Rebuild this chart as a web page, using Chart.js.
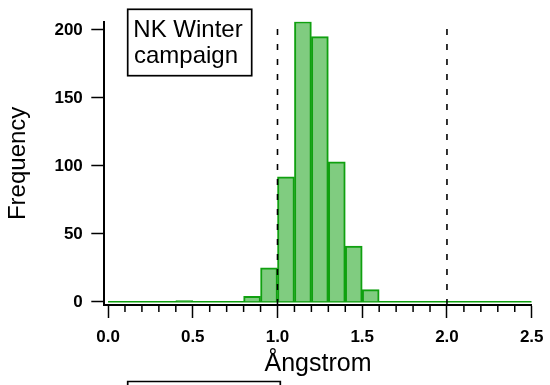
<!DOCTYPE html>
<html>
<head>
<meta charset="utf-8">
<script src="https://cdn.jsdelivr.net/npm/chart.js@4.4.1/dist/chart.umd.min.js"></script>
<style>
  html, body { margin:0; padding:0; background:#fff; }
  #wrap { position:relative; width:550px; height:385px; }
  canvas { display:block; }
</style>
</head>
<body>
<div id="wrap"><canvas id="c" width="550" height="385"></canvas></div>
<script>
// ---- data ----
const binStarts = [0.0,0.1,0.2,0.3,0.4,0.5,0.6,0.7,0.8,0.9,1.0,1.1,1.2,1.3,1.4,1.5,1.6,1.7,1.8,1.9,2.0,2.1,2.2,2.3,2.4];
const counts    = [0,  0,  0,  0,  1,  0,  0,  0,  4,  25, 92, 206,195,103,41, 9,  0,  0,  0,  0,  0,  0,  0,  0,  0];
const binWidth = 0.1;
const refLines = [1.0, 2.0];
const xMajorTicks = [0.0, 0.5, 1.0, 1.5, 2.0, 2.5];
const xMinorTicks = [0.1,0.2,0.3,0.4,0.6,0.7,0.8,0.9,1.1,1.2,1.3,1.4,1.6,1.7,1.8,1.9,2.1,2.2,2.3,2.4];
const yTicks = [0, 50, 100, 150, 200];
const labelLines = ['NK Winter', 'campaign'];
const xTitle = 'Ångstrom';
const yTitle = 'Frequency';

const X_MIN = -0.022, X_MAX = 2.5, Y_MIN = -2.3, Y_MAX = 206;
const FONT = "'Liberation Sans', Arial, sans-serif";
Chart.defaults.font.family = FONT;

const barData = binStarts.map((b, i) => ({ x: b + binWidth / 2, y: counts[i] }));
const zeroLine = [{ x: binStarts[0], y: 0 }, { x: binStarts[binStarts.length - 1] + binWidth, y: 0 }];

const decorPlugin = {
  id: 'decor',
  afterDraw(chart) {
    const ctx = chart.ctx;
    const xs = chart.scales.x;
    const area = chart.chartArea;
    ctx.save();
    // minor ticks
    ctx.strokeStyle = '#000';
    ctx.lineWidth = 1.5;
    xMinorTicks.forEach(v => {
      const px = xs.getPixelForValue(v);
      ctx.beginPath();
      ctx.moveTo(px, area.bottom);
      ctx.lineTo(px, area.bottom + 7);
      ctx.stroke();
    });
    // label box
    ctx.lineWidth = 1.7;
    ctx.strokeRect(127.7, 9.3, 124, 66.4);
    ctx.fillStyle = '#000';
    ctx.font = "24px " + FONT;
    ctx.textBaseline = 'alphabetic';
    ctx.textAlign = 'left';
    ctx.fillText(labelLines[0], 133.3, 36.7);
    ctx.fillText(labelLines[1], 134, 63);
    // partial box at bottom (next panel)
    ctx.beginPath();
    ctx.moveTo(127.7, 395);
    ctx.lineTo(127.7, 381.5);
    ctx.lineTo(280.3, 381.5);
    ctx.lineTo(280.3, 395);
    ctx.stroke();
    ctx.restore();
  }
};

new Chart(document.getElementById('c'), {
  type: 'bar',
  data: {
    datasets: [
      {
        type: 'bar',
        data: barData,
        backgroundColor: 'rgb(128,204,128)',
        borderColor: 'rgb(16,160,16)',
        borderWidth: 2,
        barPercentage: 1,
        categoryPercentage: 1,
        order: 1
      },
      {
        type: 'line',
        data: zeroLine,
        borderColor: 'rgb(16,160,16)',
        borderWidth: 1.5,
        pointRadius: 0,
        order: 2
      },
      ...refLines.map(v => ({
        type: 'line',
        data: [{ x: v, y: Y_MIN }, { x: v, y: Y_MAX }],
        borderColor: '#000',
        borderWidth: 1.6,
        borderDash: [6, 9],
        pointRadius: 0,
        order: 0
      }))
    ]
  },
  options: {
    responsive: false,
    animation: false,
    events: [],
    layout: { padding: { top: 21.7, right: 18.3, left: 0, bottom: 0 } },
    plugins: { legend: { display: false }, tooltip: { enabled: false } },
    scales: {
      x: {
        type: 'linear',
        offset: false,
        min: X_MIN, max: X_MAX,
        afterBuildTicks: s => { s.ticks = xMajorTicks.map(v => ({ value: v })); },
        afterFit: s => { s.height = 80; s.paddingLeft = 0; s.paddingRight = 0; },
        ticks: {
          autoSkip: false, maxRotation: 0, padding: 9.6,
          color: '#000',
          font: { size: 17, weight: 'bold' },
          callback: v => Number(v).toFixed(1)
        },
        grid: { offset: false, drawOnChartArea: false, drawTicks: true, tickLength: 13, tickWidth: 1.5, tickColor: '#000' },
        border: { display: true, color: '#000', width: 2 },
        title: { display: true, text: xTitle, color: '#000', font: { size: 25 }, padding: { top: 0, bottom: 5.6 } }
      },
      y: {
        type: 'linear',
        min: Y_MIN, max: Y_MAX,
        afterBuildTicks: s => { s.ticks = yTicks.map(v => ({ value: v })); },
        afterFit: s => { s.width = 104.3; s.paddingTop = 0; s.paddingBottom = 0; },
        ticks: { padding: 8.5, color: '#000', font: { size: 17, weight: 'bold' } },
        grid: { drawOnChartArea: false, drawTicks: true, tickLength: 13, tickWidth: 1.5, tickColor: '#000' },
        border: { display: true, color: '#000', width: 2 },
        title: { display: true, text: yTitle, color: '#000', font: { size: 24 }, padding: { top: 4, bottom: 0 } }
      }
    }
  },
  plugins: [decorPlugin]
});
</script>
</body>
</html>
